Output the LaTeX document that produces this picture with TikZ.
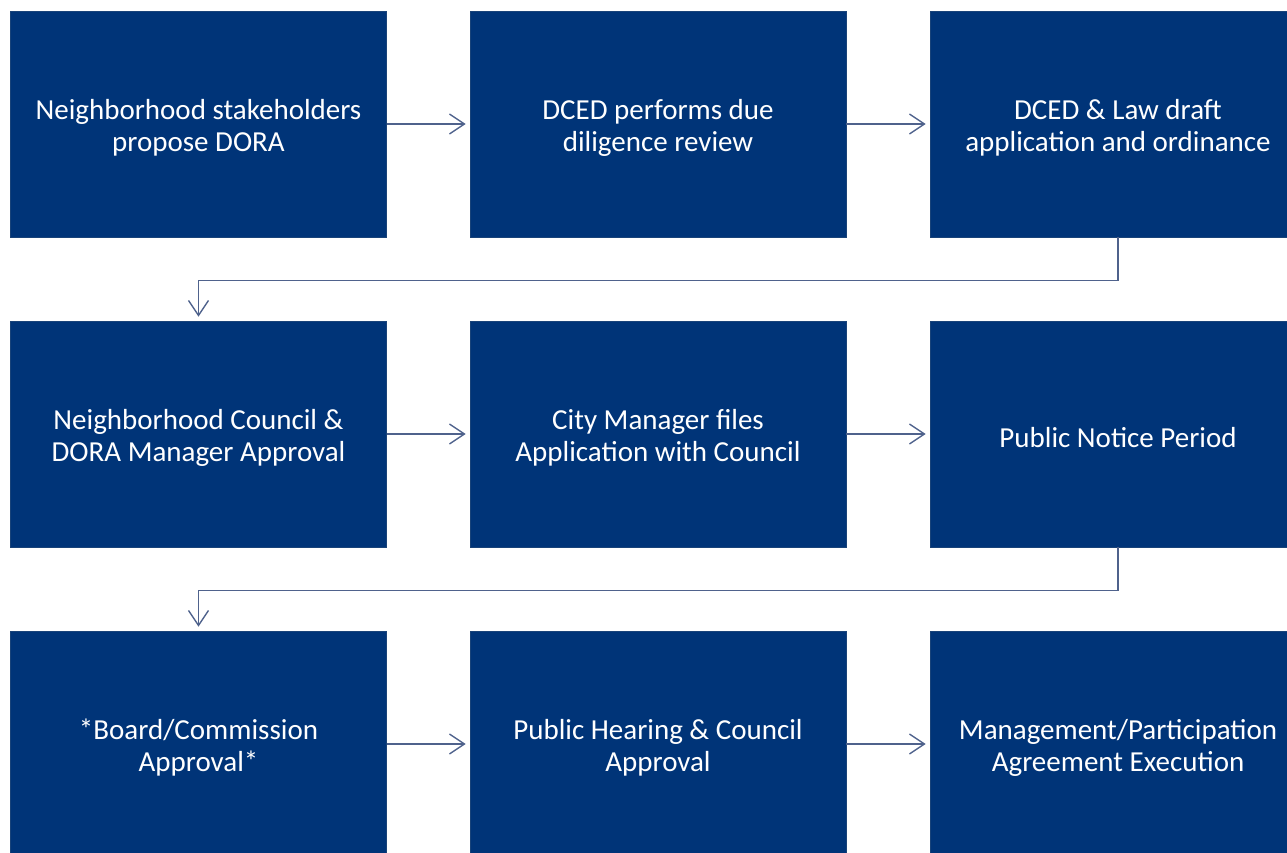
\documentclass[tikz,border=0pt]{standalone}
\usepackage{fontspec}
\setmainfont{Carlito}
\usetikzlibrary{arrows.meta}
\definecolor{boxblue}{RGB}{0,52,120}
\definecolor{arrowc}{RGB}{79,98,140}
\newcommand{\topstrut}{\rule{0pt}{27.5pt}}
\begin{document}
\begin{tikzpicture}[x=1pt,y=1pt,
  stepbox/.style={fill=boxblue,draw=boxblue!80!gray,line width=0.6pt,minimum width=376pt,minimum height=226pt,
    text=white,align=center,font=\fontsize{29}{32}\selectfont,inner sep=0pt,anchor=center},
  conn/.style={draw=arrowc,line width=1.4pt,shorten >=4pt,-{Straight Barb[length=15pt,width=20pt,line width=1.4pt]}}]
\useasboundingbox (0,0) rectangle (1287,852);
\clip (0,0) rectangle (1287,852);
\node[stepbox] (a1) at (198.5,728) {\topstrut Neighborhood stakeholders\\propose DORA};
\node[stepbox] (a2) at (658,728) {\topstrut DCED performs due\\diligence review};
\node[stepbox] (a3) at (1118,728) {\topstrut DCED \& Law draft\\application and ordinance};
\node[stepbox] (b1) at (198.5,418) {\topstrut Neighborhood Council \&\\DORA Manager Approval};
\node[stepbox] (b2) at (658,418) {\topstrut City Manager files\\Application with Council};
\node[stepbox] (b3) at (1118,418) {\topstrut Public Notice Period};
\node[stepbox] (c1) at (198.5,108) {\topstrut *Board/Commission\\Approval*};
\node[stepbox] (c2) at (658,108) {\topstrut Public Hearing \& Council\\Approval};
\node[stepbox] (c3) at (1118,108) {\topstrut Management/Participation\\Agreement Execution};
\draw[conn] (a1) -- (a2);
\draw[conn] (a2) -- (a3);
\draw[conn] (b1) -- (b2);
\draw[conn] (b2) -- (b3);
\draw[conn] (c1) -- (c2);
\draw[conn] (c2) -- (c3);
\draw[conn] (a3.south) -- ++(0,-43) -| (b1.north);
\draw[conn] (b3.south) -- ++(0,-43) -| (c1.north);
\end{tikzpicture}
\end{document}
